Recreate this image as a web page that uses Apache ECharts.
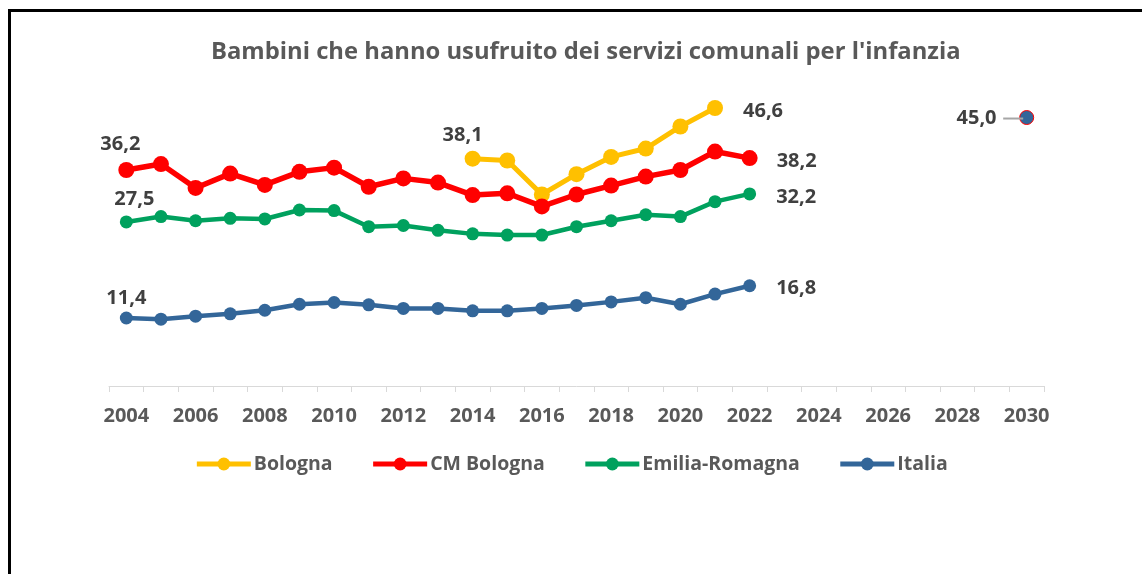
<!DOCTYPE html>
<html>
<head>
<meta charset="utf-8">
<script src="https://cdn.jsdelivr.net/npm/echarts@6/dist/echarts.min.js"></script>
<style>
  html, body { margin: 0; padding: 0; background: #fff; overflow: hidden; }
  #frame { position: absolute; left: 8px; top: 9px; width: 1200px; height: 700px; border: 3px solid #000; box-sizing: border-box; }
  #chart { position: absolute; left: 0; top: 0; width: 1142px; height: 574px; }
</style>
</head>
<body>
<div id="frame"></div>
<div id="chart"></div>
<script>
const years = ['2004','2005','2006','2007','2008','2009','2010','2011','2012','2013','2014','2015','2016','2017','2018','2019','2020','2021','2022','2023','2024','2025','2026','2027','2028','2029','2030'];
const bologna = [null,null,null,null,null,null,null,null,null,null,38.1,37.8,32.1,35.5,38.4,39.8,43.5,46.6,null,null,null,null,null,null,null,null,null];
const cmBologna = [36.2,37.2,33.2,35.6,33.7,35.9,36.6,33.4,34.8,34.1,32.0,32.3,30.1,32.1,33.6,35.1,36.2,39.3,38.2,null,null,null,null,null,null,null,null];
const emiliaRomagna = [27.5,28.4,27.7,28.1,28.0,29.5,29.4,26.7,26.9,26.1,25.5,25.3,25.3,26.7,27.7,28.7,28.4,30.9,32.2,null,null,null,null,null,null,null,null];
const italia = [11.4,11.2,11.7,12.1,12.7,13.7,14.0,13.6,13.0,13.0,12.6,12.6,13.0,13.5,14.1,14.8,13.7,15.4,16.8,null,null,null,null,null,null,null,null];
const obiettivo = [null,null,null,null,null,null,null,null,null,null,null,null,null,null,null,null,null,null,null,null,null,null,null,null,null,null,45.0];
const seriesNames = ['Bologna','CM Bologna','Emilia-Romagna','Italia'];

const FONT = '"Open Sans", sans-serif';
const fmt = v => Number(v).toFixed(1).replace('.', ',');
const labelBase = { show: true, fontFamily: FONT, fontWeight: 'bold', fontSize: 20, color: '#404040', formatter: p => fmt(p.value) };

function withLabels(arr, cfg) {
  return arr.map((v, i) => {
    if (v == null) return null;
    if (cfg[i]) return { value: v, label: Object.assign({}, labelBase, cfg[i]) };
    return v;
  });
}
const firstIdx = a => a.findIndex(v => v != null);
const lastIdx = a => { for (let i = a.length - 1; i >= 0; i--) if (a[i] != null) return i; return -1; };

function lineSeries(name, arr, color, lw, sym, cfgFirst, cfgLast) {
  const cfg = {};
  cfg[firstIdx(arr)] = cfgFirst;
  cfg[lastIdx(arr)] = cfgLast;
  return {
    name, type: 'line', data: withLabels(arr, cfg), connectNulls: false,
    symbol: 'circle', symbolSize: sym, showSymbol: true,
    lineStyle: { color, width: lw }, itemStyle: { color },
    label: { show: false }, emphasis: { disabled: true }, z: 3
  };
}

const chart = echarts.init(document.getElementById('chart'), null, { renderer: 'canvas' });
chart.setOption({
  animation: false,
  backgroundColor: 'transparent',
  title: {
    text: "Bambini che hanno usufruito dei servizi comunali per l'infanzia",
    left: 206, top: 35,
    textStyle: { fontFamily: FONT, fontWeight: 'bold', fontSize: 23.8, color: '#595959' }
  },
  legend: {
    data: seriesNames, bottom: 95, left: 'center',
    itemWidth: 54, itemHeight: 16, itemGap: 38,
    lineStyle: { width: 5 },
    textStyle: { fontFamily: FONT, fontWeight: 'bold', fontSize: 19.5, color: '#595959', padding: [0, 0, 0, -2] }
  },
  grid: { left: 109, right: 98, top: 87.7, bottom: 188, containLabel: false },
  xAxis: {
    type: 'category', data: years, boundaryGap: true,
    axisLine: { show: true, lineStyle: { color: '#D9D9D9', width: 1 } },
    axisTick: { show: true, interval: 0, length: 6, lineStyle: { color: '#D9D9D9' } },
    axisLabel: { interval: 1, margin: 20, fontFamily: FONT, fontWeight: 'bold', fontSize: 20, color: '#595959' },
    splitLine: { show: false }
  },
  yAxis: { type: 'value', min: 0, max: 50, show: false, splitLine: { show: false } },
  series: [
    lineSeries('Bologna', bologna, '#FFC000', 5, 16,
      { position: 'top', distance: 5, offset: [-10, 0] },
      { position: 'right', distance: 20, offset: [0, 3] }),
    lineSeries('CM Bologna', cmBologna, '#FF0000', 5.5, 16,
      { position: 'top', distance: 8, offset: [-6, 0] },
      { position: 'right', distance: 19, offset: [0, 3] }),
    lineSeries('Emilia-Romagna', emiliaRomagna, '#00A15E', 4.5, 13,
      { position: 'top', distance: 6, offset: [8, 0] },
      { position: 'right', distance: 20, offset: [0, 3] }),
    lineSeries('Italia', italia, '#336699', 4.5, 13,
      { position: 'top', distance: 3, offset: [0, 0] },
      { position: 'right', distance: 20, offset: [0, 3] }),
    {
      name: 'Obiettivo 2030', type: 'line', data: obiettivo,
      symbol: 'circle', symbolSize: 14,
      itemStyle: { color: '#336699', borderColor: '#FF0000', borderWidth: 1 },
      lineStyle: { width: 0 },
      emphasis: { disabled: true },
      label: {
        show: true, position: 'left', distance: -4, offset: [0, 1],
        formatter: p => '{v|' + fmt(p.value) + '}  {g|}',
        rich: {
          v: { fontFamily: FONT, fontWeight: 'bold', fontSize: 20, color: '#404040' },
          g: { width: 20, height: 2, backgroundColor: '#A6A6A6' }
        }
      },
      z: 4
    }
  ]
});
</script>
</body>
</html>
